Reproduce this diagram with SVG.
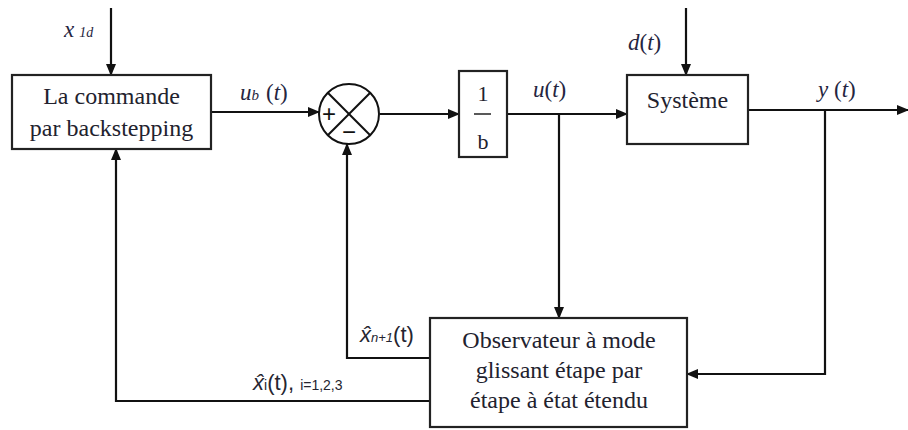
<svg xmlns="http://www.w3.org/2000/svg" width="908" height="430" viewBox="0 0 908 430">
<defs>
<marker id="ah" markerUnits="userSpaceOnUse" markerWidth="12" markerHeight="10" refX="11" refY="5" orient="auto">
<path d="M0,0 L12,5 L0,10 Z" fill="#111"/>
</marker>
<style>
.box{fill:#fff;stroke:#222;stroke-width:2.2}
.ln{fill:none;stroke:#111;stroke-width:2}
.arr{fill:none;stroke:#111;stroke-width:2.2;marker-end:url(#ah)}
.t{font-family:"Liberation Serif","Times New Roman",serif;font-size:24px;fill:#22222e;text-anchor:middle}
.m{font-family:"Liberation Serif","DejaVu Serif",serif;font-style:italic;font-size:23px;fill:#252540}
.s{font-family:"Liberation Sans","Open Sans",sans-serif;fill:#252530}
</style>
</defs>
<rect width="908" height="430" fill="#fff"/>
<g id="connectors">
<line class="arr" x1="111" y1="8" x2="111" y2="75"/>
<line class="arr" x1="211" y1="112" x2="319" y2="112"/>
<line class="arr" x1="380" y1="114" x2="459" y2="114"/>
<line class="arr" x1="507" y1="114" x2="627" y2="114"/>
<line class="arr" x1="686" y1="8" x2="686" y2="75"/>
<line class="arr" x1="748" y1="110" x2="908" y2="110"/>
<line class="arr" x1="559" y1="114" x2="559" y2="318"/>
<polyline class="arr" points="825,110 825,374 687,374"/>
<polyline class="arr" points="430,358 347,358 347,144"/>
<polyline class="arr" points="430,401 116,401 116,149"/>
</g>
<g id="backstepping">
<rect class="box" x="12" y="75" width="199" height="74"/>
<text class="t" x="111.5" y="104">La commande</text>
<text class="t" x="111.5" y="136">par backstepping</text>
</g>
<g id="sum">
<circle cx="349" cy="114" r="30" fill="#fff" stroke="#111" stroke-width="2"/>
<line class="ln" x1="327.8" y1="92.8" x2="370.2" y2="135.2"/>
<line class="ln" x1="370.2" y1="92.8" x2="327.8" y2="135.2"/>
<text x="329" y="122" font-family="Liberation Sans,sans-serif" font-size="24" fill="#111" text-anchor="middle">+</text>
<text x="349" y="140" font-family="Liberation Sans,sans-serif" font-size="24" fill="#111" text-anchor="middle">−</text>
</g>
<g id="gain">
<rect class="box" x="459" y="71" width="48" height="86"/>
<text x="483" y="101" font-family="Liberation Serif,serif" font-size="22" fill="#22222e" text-anchor="middle">1</text>
<line x1="474" y1="114" x2="491" y2="114" stroke="#222" stroke-width="1.5"/>
<text x="483" y="149" font-family="Liberation Serif,serif" font-size="22" fill="#22222e" text-anchor="middle">b</text>
</g>
<g id="systeme">
<rect class="box" x="627" y="75" width="121" height="69"/>
<text class="t" x="687.5" y="108">Système</text>
</g>
<g id="observateur">
<rect class="box" x="430" y="318" width="257" height="109"/>
<text class="t" x="559" y="348">Observateur à mode</text>
<text class="t" x="559" y="378">glissant étape par</text>
<text class="t" x="559" y="408">étape à état étendu</text>
</g>
<g id="labels">
<text class="m" x="64" y="37">x<tspan font-size="14" dx="5">1d</tspan></text>
<text class="m" x="240" y="100">u<tspan font-size="15">b</tspan><tspan dx="7" font-style="normal">(</tspan>t<tspan font-style="normal">)</tspan></text>
<text class="m" x="533" y="97">u<tspan font-style="normal">(</tspan>t<tspan font-style="normal">)</tspan></text>
<text class="m" x="628" y="50">d<tspan font-style="normal">(</tspan>t<tspan font-style="normal">)</tspan></text>
<text class="m" x="818" y="97">y <tspan font-style="normal">(</tspan>t<tspan font-style="normal">)</tspan></text>
<text class="s" x="360" y="342" font-size="22"><tspan font-style="italic">x̂</tspan><tspan font-size="13" font-style="italic">n+1</tspan>(t)</text>
<text class="s" x="253" y="390" font-size="22"><tspan font-style="italic">x̂</tspan><tspan font-size="14">i</tspan>(t), <tspan font-size="14">i=1,2,3</tspan></text>
</g>
</svg>
